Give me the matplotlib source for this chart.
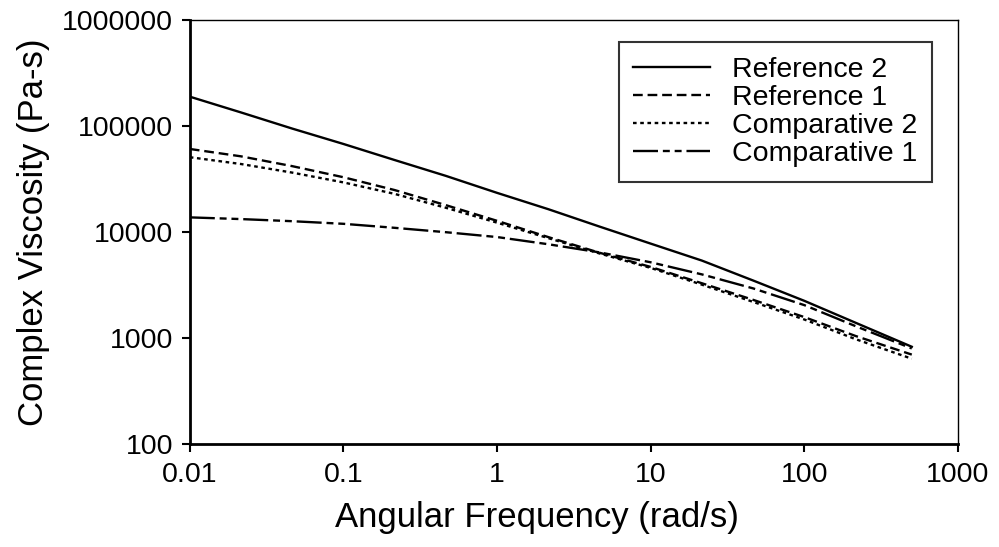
import numpy as np
import matplotlib
matplotlib.use("Agg")
import matplotlib.pyplot as plt

plt.rcParams['font.family'] = ['Liberation Sans', 'DejaVu Sans']
plt.rcParams['lines.scale_dashes'] = False

# angular frequency (rad/s)
freq = [0.01, 0.0215, 0.0464, 0.1, 0.215, 0.464, 1, 2.15, 4.64, 10, 21.5, 46.4, 100, 215, 500]

# complex viscosity (Pa-s)
reference_2 = [190000, 135000, 95000, 68000, 48000, 34000, 23500, 16500, 11300, 7800, 5400, 3500, 2250, 1400, 830]
reference_1 = [61000, 52000, 42000, 33000, 25000, 18000, 12800, 9000, 6400, 4700, 3300, 2300, 1580, 1050, 700]
comparative_2 = [51000, 44000, 36500, 29500, 23000, 17000, 12300, 8800, 6300, 4600, 3200, 2200, 1500, 980, 640]
comparative_1 = [13800, 13300, 12700, 12000, 11000, 10000, 9000, 7700, 6450, 5200, 4000, 2950, 2050, 1300, 800]

x_ticks = [0.01, 0.1, 1, 10, 100, 1000]
x_labels = ["0.01", "0.1", "1", "10", "100", "1000"]
y_ticks = [100, 1000, 10000, 100000, 1000000]
y_labels = ["100", "1000", "10000", "100000", "1000000"]

fig = plt.figure(figsize=(9.99, 5.47), dpi=100)
ax = fig.add_axes([0.190, 0.188, 0.769, 0.775])

lw = 1.7
ax.plot(freq, reference_2, color='black', lw=lw, label="Reference 2")
ax.plot(freq, reference_1, color='black', lw=lw, dashes=(7, 3.5), label="Reference 1")
ax.plot(freq, comparative_2, color='black', lw=lw, dashes=(2.6, 2.6), label="Comparative 2")
ax.plot(freq, comparative_1, color='black', lw=lw, dashes=(18, 3.5, 5, 3.5, 5, 3.5), label="Comparative 1")

ax.set_xscale('log')
ax.set_yscale('log')
ax.set_xlim(0.01, 1000)
ax.set_ylim(100, 1000000)
ax.set_xticks(x_ticks)
ax.set_xticklabels(x_labels)
ax.set_yticks(y_ticks)
ax.set_yticklabels(y_labels)
ax.minorticks_off()
ax.tick_params(axis='both', which='major', direction='out', length=6, width=1.5,
               labelsize=20.5)
ax.tick_params(axis='x', pad=7)
ax.tick_params(axis='y', pad=6)

ax.spines['left'].set_linewidth(2)
ax.spines['bottom'].set_linewidth(2)
ax.spines['top'].set_linewidth(1)
ax.spines['right'].set_linewidth(1)

ax.set_xlabel("Angular Frequency (rad/s)", fontsize=25)
ax.set_ylabel("Complex Viscosity (Pa-s)", fontsize=25)
ax.xaxis.set_label_coords(0.452, -0.135)
ax.yaxis.set_label_coords(-0.182, 0.5)

leg = ax.legend(loc='upper right', bbox_to_anchor=(0.966, 0.948), fontsize=20.5,
                frameon=True, fancybox=False, handlelength=2.7, handletextpad=0.8,
                labelspacing=0.08, borderpad=0.5, borderaxespad=0)
leg.get_frame().set_edgecolor('black')
leg.get_frame().set_linewidth(1.5)

fig.savefig("out.png", dpi=100)
